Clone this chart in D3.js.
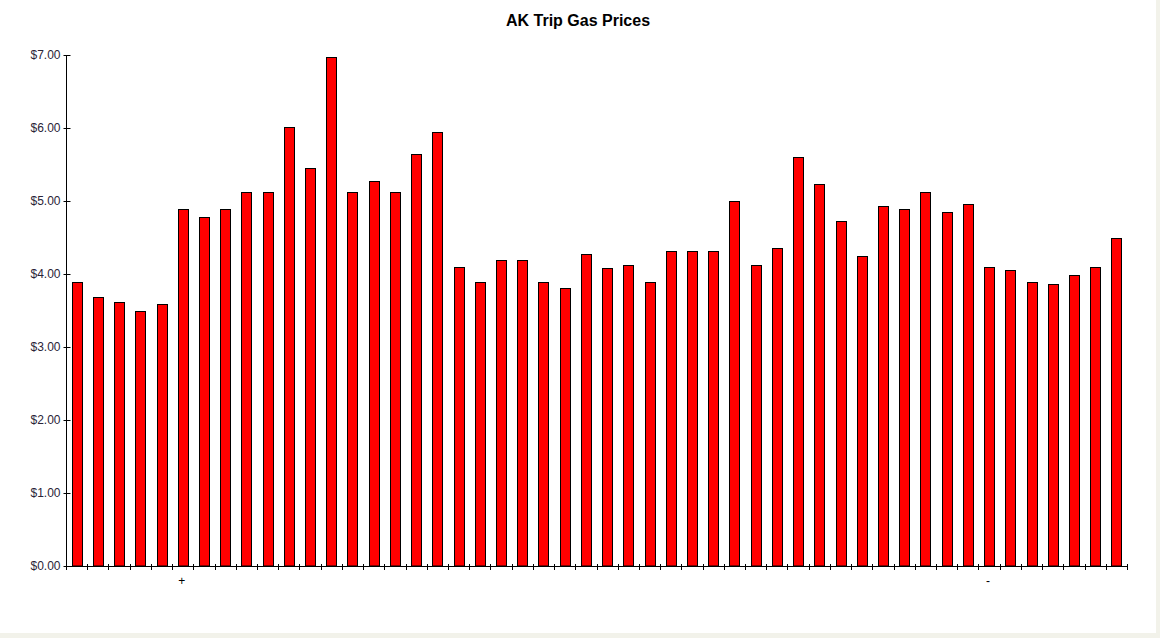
<!DOCTYPE html>
<html>
<head>
<meta charset="utf-8">
<script src="https://cdn.jsdelivr.net/npm/d3@7"></script>
<style>
  html, body { margin: 0; padding: 0; background: #f2f2ea; }
  svg { display: block; }
</style>
</head>
<body>
<svg id="chart" width="1160" height="638"></svg>
<script>
const title = "AK Trip Gas Prices";
const prices = [
  3.89, 3.68, 3.61, 3.49, 3.59, 4.89, 4.78, 4.89, 5.12, 5.12,
  6.02, 5.45, 6.97, 5.12, 5.27, 5.12, 5.64, 5.94, 4.09, 3.89,
  4.19, 4.19, 3.89, 3.81, 4.27, 4.08, 4.12, 3.89, 4.32, 4.32,
  4.32, 5.00, 4.12, 4.35, 5.60, 5.23, 4.72, 4.24, 4.93, 4.89,
  5.12, 4.85, 4.96, 4.09, 4.05, 3.89, 3.86, 3.98, 4.09, 4.49
];
const categories = prices.map((d, i) => i);
const categoryLabels = {5: "+", 43: "-"};
const yTicks = [0, 1, 2, 3, 4, 5, 6, 7];

(function () {
const svg = d3.select("#chart");
svg.append("rect").attr("x", 0).attr("y", 0).attr("width", 1156).attr("height", 633).attr("fill", "#ffffff");

const mLeft = 66, mRight = 1127, mTop = 55, mBottom = 566;
const x = d3.scaleBand().domain(categories).range([mLeft, mRight]).padding(0);
const y = d3.scaleLinear().domain([0, 7]).range([mBottom, mTop]);

svg.append("text")
  .attr("x", 578).attr("y", 26)
  .attr("text-anchor", "middle")
  .attr("font-family", "Liberation Sans, Arial, sans-serif")
  .attr("font-weight", "bold")
  .attr("font-size", 16)
  .attr("fill", "#000")
  .text(title);

// bars
const bw = x.bandwidth() * 0.47;
svg.append("g").selectAll("rect").data(prices).join("rect")
  .attr("x", (d, i) => Math.round(x(i) + x.bandwidth() / 2 - bw / 2) + 0.5)
  .attr("y", d => Math.round(y(d)) + 0.5)
  .attr("width", Math.round(bw))
  .attr("height", d => y(0) - Math.round(y(d)) - 0.5)
  .attr("fill", "#ff0000")
  .attr("stroke", "#000")
  .attr("stroke-width", 1);

// y axis
const yAxis = svg.append("g").attr("transform", `translate(${mLeft + 0.5},0)`);
yAxis.append("line").attr("x1", 0).attr("x2", 0).attr("y1", y(7)).attr("y2", y(0)).attr("stroke", "#000");
yAxis.selectAll("line.t").data(yTicks).join("line").attr("class", "t")
  .attr("x1", -3).attr("x2", 4)
  .attr("y1", d => Math.round(y(d)) + 0.5).attr("y2", d => Math.round(y(d)) + 0.5)
  .attr("stroke", "#000");
yAxis.selectAll("text").data(yTicks).join("text")
  .attr("x", -6).attr("y", d => y(d) + 4)
  .attr("text-anchor", "end")
  .attr("font-family", "Liberation Sans, Arial, sans-serif")
  .attr("font-size", 12)
  .attr("fill", "#2a2438")
  .text(d => "$" + d.toFixed(2));

// x axis
const xAxis = svg.append("g");
xAxis.append("line").attr("x1", mLeft).attr("x2", mRight + 1).attr("y1", mBottom + 0.5).attr("y2", mBottom + 0.5).attr("stroke", "#000");
const tickPos = categories.map(c => x(c)).concat([x(categories[categories.length - 1]) + x.bandwidth()]);
xAxis.selectAll("line.t").data(tickPos).join("line").attr("class", "t")
  .attr("x1", d => Math.round(d) + 0.5).attr("x2", d => Math.round(d) + 0.5)
  .attr("y1", mBottom - 2).attr("y2", mBottom + 4)
  .attr("stroke", "#000");
xAxis.selectAll("text").data(Object.keys(categoryLabels).map(Number)).join("text")
  .attr("x", d => x(d) + x.bandwidth() / 2 - 1)
  .attr("y", 585)
  .attr("text-anchor", "middle")
  .attr("font-family", "Liberation Sans, Arial, sans-serif")
  .attr("font-size", 12)
  .attr("fill", "#000")
  .text(d => categoryLabels[d]);
})();
</script>
</body>
</html>
